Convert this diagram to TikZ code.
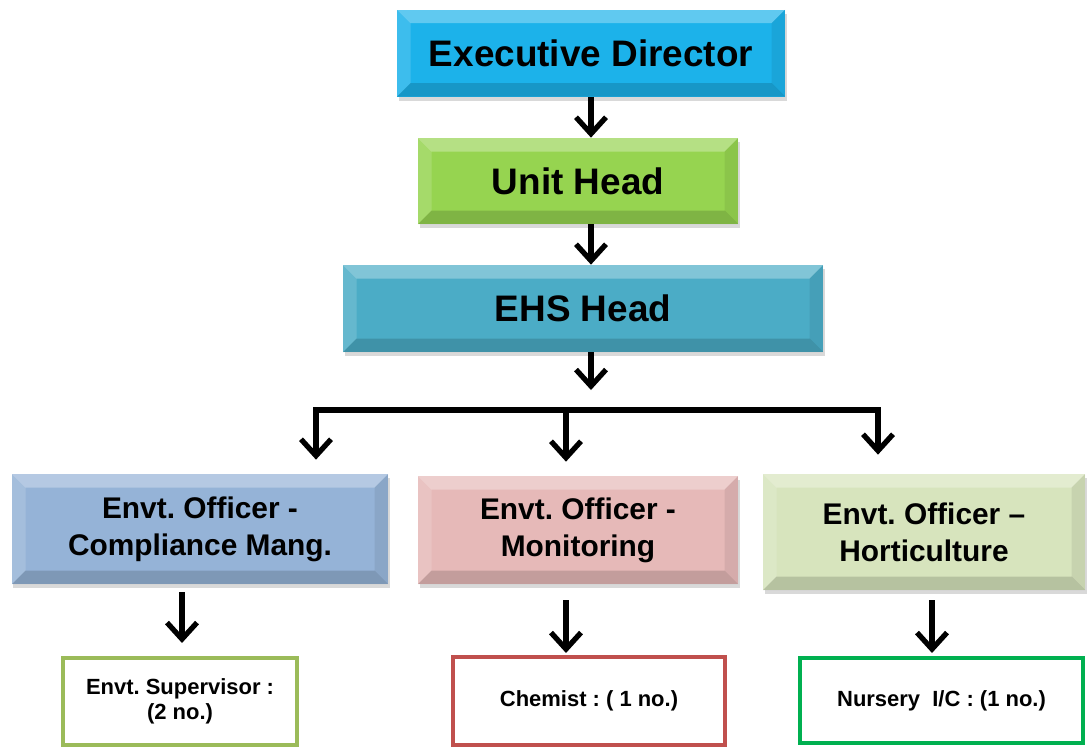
\documentclass[tikz,border=0pt]{standalone}
\usepackage{fontspec}
\setmainfont{Liberation Sans}
\usetikzlibrary{arrows.meta}
\usetikzlibrary{shadows}

\definecolor{dirblue}{RGB}{28,178,234}
\definecolor{unitgreen}{RGB}{150,212,80}
\definecolor{ehsteal}{RGB}{75,172,198}
\definecolor{compblue}{RGB}{149,179,215}
\definecolor{monpink}{RGB}{230,185,184}
\definecolor{hortgreen}{RGB}{215,228,189}
\definecolor{supgreen}{RGB}{155,187,89}
\definecolor{chemred}{RGB}{192,80,77}
\definecolor{nurgreen}{RGB}{0,176,80}

\newcommand{\bev}{0.27cm}
\frenchspacing

\begin{document}
\begin{tikzpicture}
	\tikzstyle{level box}=[draw=none,inner sep=0pt,align=center,text=black,
	   drop shadow={opacity=0.3,shadow xshift=0.03cm,shadow yshift=-0.08cm},
	   path picture={
	     \fill[white,opacity=0.3] (path picture bounding box.north west) -- (path picture bounding box.north east)
	        -- ([xshift=-\bev,yshift=-\bev]path picture bounding box.north east) -- ([xshift=\bev,yshift=-\bev]path picture bounding box.north west) -- cycle;
	     \fill[white,opacity=0.15] (path picture bounding box.north west) -- (path picture bounding box.south west)
	        -- ([xshift=\bev,yshift=\bev]path picture bounding box.south west) -- ([xshift=\bev,yshift=-\bev]path picture bounding box.north west) -- cycle;
	     \fill[black,opacity=0.15] (path picture bounding box.south west) -- (path picture bounding box.south east)
	        -- ([xshift=-\bev,yshift=\bev]path picture bounding box.south east) -- ([xshift=\bev,yshift=\bev]path picture bounding box.south west) -- cycle;
	     \fill[black,opacity=0.07] (path picture bounding box.north east) -- (path picture bounding box.south east)
	        -- ([xshift=-\bev,yshift=\bev]path picture bounding box.south east) -- ([xshift=-\bev,yshift=-\bev]path picture bounding box.north east) -- cycle;
	   }]
	\tikzstyle{top box}=[level box,font=\fontsize{21}{25}\selectfont\bfseries]
	\tikzstyle{officer box}=[level box,font=\fontsize{17}{21}\selectfont\bfseries]
	\tikzstyle{staff box}=[draw,line width=2.3pt,fill=white,inner sep=0pt,align=center,
	   font=\fontsize{12.5}{14}\selectfont\bfseries]
	\tikzstyle{link}=[line width=3pt,black]
	\tikzstyle{link arrow}=[link,-{Straight Barb[length=3.3mm,width=6mm]}]

	\useasboundingbox (0,0) rectangle (21.74,-14.94);

	\node[top box,fill=dirblue,minimum width=7.76cm,minimum height=1.74cm] (ed) at (11.82,-1.06) {Executive Director};
	\node[top box,fill=unitgreen,minimum width=6.40cm,minimum height=1.72cm] (uh) at (11.56,-3.62) {Unit Head};
	\node[top box,fill=ehsteal,minimum width=9.60cm,minimum height=1.74cm] (ehs) at (11.66,-6.17) {EHS Head};

	\node[officer box,fill=compblue,minimum width=7.52cm,minimum height=2.20cm] (eo1) at (4.00,-10.58) {Envt. Officer -\\Compliance Mang.};
	\node[officer box,fill=monpink,minimum width=6.40cm,minimum height=2.16cm] (eo2) at (11.56,-10.60) {Envt. Officer -\\Monitoring};
	\node[officer box,fill=hortgreen,minimum width=6.44cm,minimum height=2.32cm] (eo3) at (18.48,-10.64) {Envt. Officer --\\Horticulture};

	\node[staff box,draw=supgreen,minimum width=4.68cm,minimum height=1.74cm] (sup) at (3.60,-14.03) {Envt. Supervisor :\\(2 no.)};
	\node[staff box,draw=chemred,minimum width=5.44cm,minimum height=1.76cm] (chem) at (11.78,-14.02) {Chemist : ( 1 no.)};
	\node[staff box,draw=nurgreen,minimum width=5.66cm,minimum height=1.70cm] (nur) at (18.83,-14.01) {Nursery~~I/C : (1 no.)};

	\coordinate (split) at (11.82,-7.80);
	\coordinate (bl) at (6.32,-8.20);
	\coordinate (bm) at (11.32,-8.20);
	\coordinate (br) at (17.56,-8.20);

	\draw[link arrow] (ed.south) -- (ed.south |- uh.north);
	\draw[link arrow] (uh.south -| ed.south) -- (ehs.north -| ed.south);
	\draw[link arrow] (ehs.south -| split) -- (split);

	\draw[link,line cap=rect] (bl) -- (br);
	\draw[link arrow,shorten >=0.28cm] (bl) -- (bl |- eo1.north);
	\draw[link arrow,shorten >=0.28cm] (bm) -- (bm |- eo2.north);
	\draw[link arrow,shorten >=0.38cm] (br) -- (br |- eo3.north);

	\draw[link arrow,shorten <=0.16cm,shorten >=0.26cm] (eo1.south -| 3.64,0) -- (sup.north -| 3.64,0);
	\draw[link arrow,shorten <=0.32cm,shorten >=0.04cm] (eo2.south -| bm) -- (chem.north -| bm);
	\draw[link arrow,shorten <=0.20cm,shorten >=0.06cm] (eo3.south -| 18.64,0) -- (nur.north -| 18.64,0);
\end{tikzpicture}
\end{document}
